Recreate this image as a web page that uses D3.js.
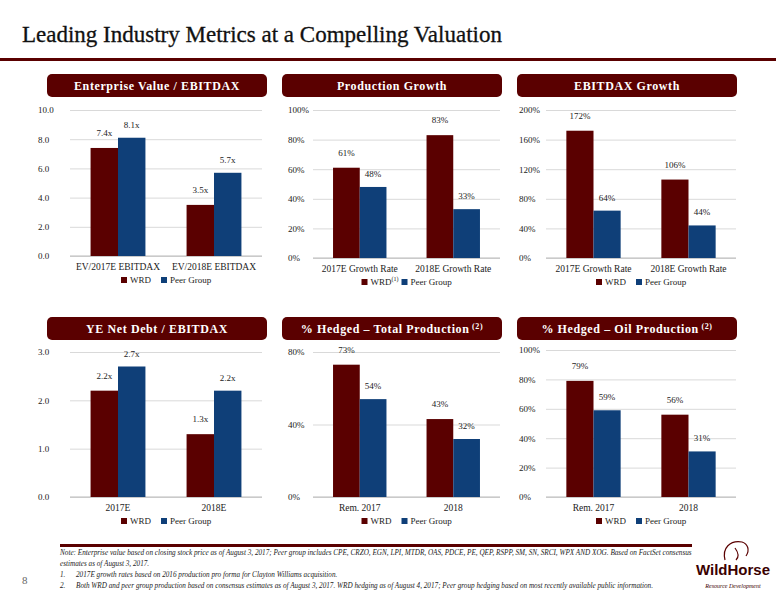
<!DOCTYPE html>
<html><head><meta charset="utf-8">
<script src="https://cdn.jsdelivr.net/npm/d3@7"></script>
<style>body{margin:0;background:#fff}svg{display:block}</style>
</head><body><svg id="c" width="776" height="600"></svg>
<script>
const series = ["WRD","Peer Group"];
const evCats = ["EV/2017E EBITDAX","EV/2018E EBITDAX"];
const evWRD = [7.4,3.5], evPeer = [8.1,5.7];
const evTicks = [0,2,4,6,8,10];
const prodCats = ["2017E Growth Rate","2018E Growth Rate"];
const prodWRD = [61,83], prodPeer = [48,33];
const prodTicks = [0,20,40,60,80,100];
const ebCats = ["2017E Growth Rate","2018E Growth Rate"];
const ebWRD = [172,106], ebPeer = [64,44];
const ebTicks = [0,40,80,120,160,200];
const ndCats = ["2017E","2018E"];
const ndWRD = [2.2,1.3], ndPeer = [2.7,2.2];
const ndTicks = [0,1,2,3];
const htCats = ["Rem. 2017","2018"];
const htWRD = [73,43], htPeer = [54,32];
const htTicks = [0,40,80];
const hoCats = ["Rem. 2017","2018"];
const hoWRD = [79,56], hoPeer = [59,31];
const hoTicks = [0,20,40,60,80,100];

const RED="#5a0000", BLUE="#0f3f78";
const svg=d3.select("#c");
const F="Liberation Serif, Times New Roman, serif";
svg.append("text").attr("x",22).attr("y",42).attr("font-family",F).attr("font-size",23).attr("fill","#111").attr("stroke","#111").attr("stroke-width",0.3).text("Leading Industry Metrics at a Compelling Valuation");
svg.append("rect").attr("x",0).attr("y",58).attr("width",776).attr("height",3).attr("fill",RED);

function panel(o){
  const g=svg.append("g");
  g.append("rect").attr("x",o.hx).attr("y",o.hy).attr("width",220).attr("height",23).attr("rx",5).attr("fill",RED);
  const t=g.append("text").attr("x",o.hx+110).attr("y",o.hy+16).attr("text-anchor","middle").attr("font-family",F).attr("font-weight","bold").attr("font-size",12).attr("fill","#fff").attr("letter-spacing",0.6).text(o.title);
  if(o.sup) t.append("tspan").attr("font-size",8).attr("dy",-4).text(" "+o.sup);
  const y=d3.scaleLinear().domain([0,d3.max(o.ticks)]).range([o.y0,o.y1]);
  const x=d3.scaleBand().domain(o.cats).range([o.x0,o.x1]);
  const xs=d3.scaleBand().domain(series).range([0,x.bandwidth()]).paddingOuter(0.75).paddingInner(0);
  const ax=g.append("g").attr("transform",`translate(${o.x0},0)`).call(d3.axisLeft(y).tickValues(o.ticks).tickSize(-(o.x1-o.x0)).tickFormat(o.tf));
  ax.select(".domain").remove();
  ax.selectAll(".tick line").attr("stroke","#d9d9d9");
  ax.selectAll(".tick text").attr("font-family",F).attr("font-size",9).attr("fill","#222").attr("text-anchor","start").attr("x",-(o.x0-o.lx));
  g.append("line").attr("x1",o.x0).attr("x2",o.x1).attr("y1",o.y0).attr("y2",o.y0).attr("stroke","#bbb");
  const data=o.cats.map((c,i)=>[{c,s:series[0],v:o.a[i]},{c,s:series[1],v:o.b[i]}]).flat();
  g.selectAll("rect.b").data(data).join("rect").attr("x",d=>x(d.c)+xs(d.s)).attr("width",xs.bandwidth()).attr("y",d=>y(d.v)).attr("height",d=>o.y0-y(d.v)).attr("fill",d=>d.s===series[0]?RED:BLUE);
  g.selectAll("text.l").data(data).join("text").attr("x",d=>x(d.c)+xs(d.s)+xs.bandwidth()/2).attr("y",d=>y(d.v)-(d.s===series[0]?12:10)).attr("text-anchor","middle").attr("font-family",F).attr("font-size",9).attr("fill","#222").text(d=>o.lf(d.v));
  g.selectAll("text.c").data(o.cats).join("text").attr("x",d=>x(d)+x.bandwidth()/2).attr("y",o.y0+14).attr("text-anchor","middle").attr("font-family",F).attr("font-size",9.5).attr("fill","#222").text(d=>d);
  const lx=o.x0+(o.x1-o.x0)/2-45, ly=o.y0+27;
  series.forEach((s,i)=>{
    const xx=lx+i*40;
    g.append("rect").attr("x",xx).attr("y",ly-6).attr("width",6).attr("height",6).attr("fill",i?BLUE:RED);
    const tt=g.append("text").attr("x",xx+9).attr("y",ly).attr("font-family",F).attr("font-size",9).attr("fill","#222").text(s);
    if(i===0&&o.wsup) tt.append("tspan").attr("font-size",6).attr("dy",-4).text("(1)");
  });
}
const xf=v=>v.toFixed(1)+"x", pf=v=>v+"%", df=v=>v.toFixed(1);
panel({title:"Enterprise Value / EBITDAX",hx:47,hy:74,cats:evCats,a:evWRD,b:evPeer,ticks:evTicks,tf:df,lf:xf,x0:70,x1:262,y0:256,y1:110,lx:38});
panel({title:"Production Growth",hx:282,hy:74,cats:prodCats,a:prodWRD,b:prodPeer,ticks:prodTicks,tf:pf,lf:pf,x0:313,x1:500,y0:258,y1:110,lx:288,wsup:true});
panel({title:"EBITDAX Growth",hx:517,hy:74,cats:ebCats,a:ebWRD,b:ebPeer,ticks:ebTicks,tf:pf,lf:pf,x0:546,x1:736,y0:258,y1:110,lx:519});
panel({title:"YE Net Debt / EBITDAX",hx:47,hy:317,cats:ndCats,a:ndWRD,b:ndPeer,ticks:ndTicks,tf:df,lf:xf,x0:70,x1:262,y0:497,y1:352,lx:38});
panel({title:"% Hedged \u2013 Total Production",sup:"(2)",hx:282,hy:317,cats:htCats,a:htWRD,b:htPeer,ticks:htTicks,tf:pf,lf:pf,x0:313,x1:500,y0:497,y1:352,lx:288});
panel({title:"% Hedged \u2013 Oil Production",sup:"(2)",hx:517,hy:317,cats:hoCats,a:hoWRD,b:hoPeer,ticks:hoTicks,tf:pf,lf:pf,x0:546,x1:736,y0:497,y1:350,lx:519});

svg.append("rect").attr("x",60).attr("y",544).attr("width",632).attr("height",3).attr("fill",RED);
const notes=[
 [60,555,"","Note: Enterprise value based on closing stock price as of August 3, 2017; Peer group includes CPE, CRZO, EGN, LPI, MTDR, OAS, PDCE, PE, QEP, RSPP, SM, SN, SRCI, WPX AND XOG.  Based on FactSet consensus"],
 [60,566,"","estimates as of August 3, 2017."],
 [60,577,"1.","2017E growth rates based on 2016 production pro forma for Clayton Williams acquisition."],
 [60,588,"2.","Both WRD and peer group production based on consensus estimates as of August 3, 2017.  WRD hedging as of August 4, 2017; Peer group hedging based on most recently available public information."]];
notes.forEach(n=>{
  svg.append("text").attr("x",n[0]).attr("y",n[1]).attr("font-family",F).attr("font-style","italic").attr("font-size",7.2).attr("fill","#222").text(n[2]);
  svg.append("text").attr("x",n[2]?n[0]+16:n[0]).attr("y",n[1]).attr("font-family",F).attr("font-style","italic").attr("font-size",7.2).attr("fill","#222").text(n[3]);
});
svg.append("text").attr("x",22).attr("y",584).attr("font-family",F).attr("font-size",11).attr("fill","#666").text("8");
svg.append("text").attr("x",733).attr("y",575).attr("text-anchor","middle").attr("font-family","Liberation Sans, Arial").attr("font-weight","bold").attr("font-size",15).attr("fill","#3a0000").text("WildHorse");
svg.append("text").attr("x",733).attr("y",588).attr("text-anchor","middle").attr("font-family",F).attr("font-style","italic").attr("font-size",6).attr("fill","#3a0000").text("Resource Development");
svg.append("path").attr("d","M725,560 C722,548 730,540 742,542 C748,544 750,550 746,556 M735,548 C738,552 740,556 736,560").attr("fill","none").attr("stroke","#5a0000").attr("stroke-width",1.2);
</script></body></html>
